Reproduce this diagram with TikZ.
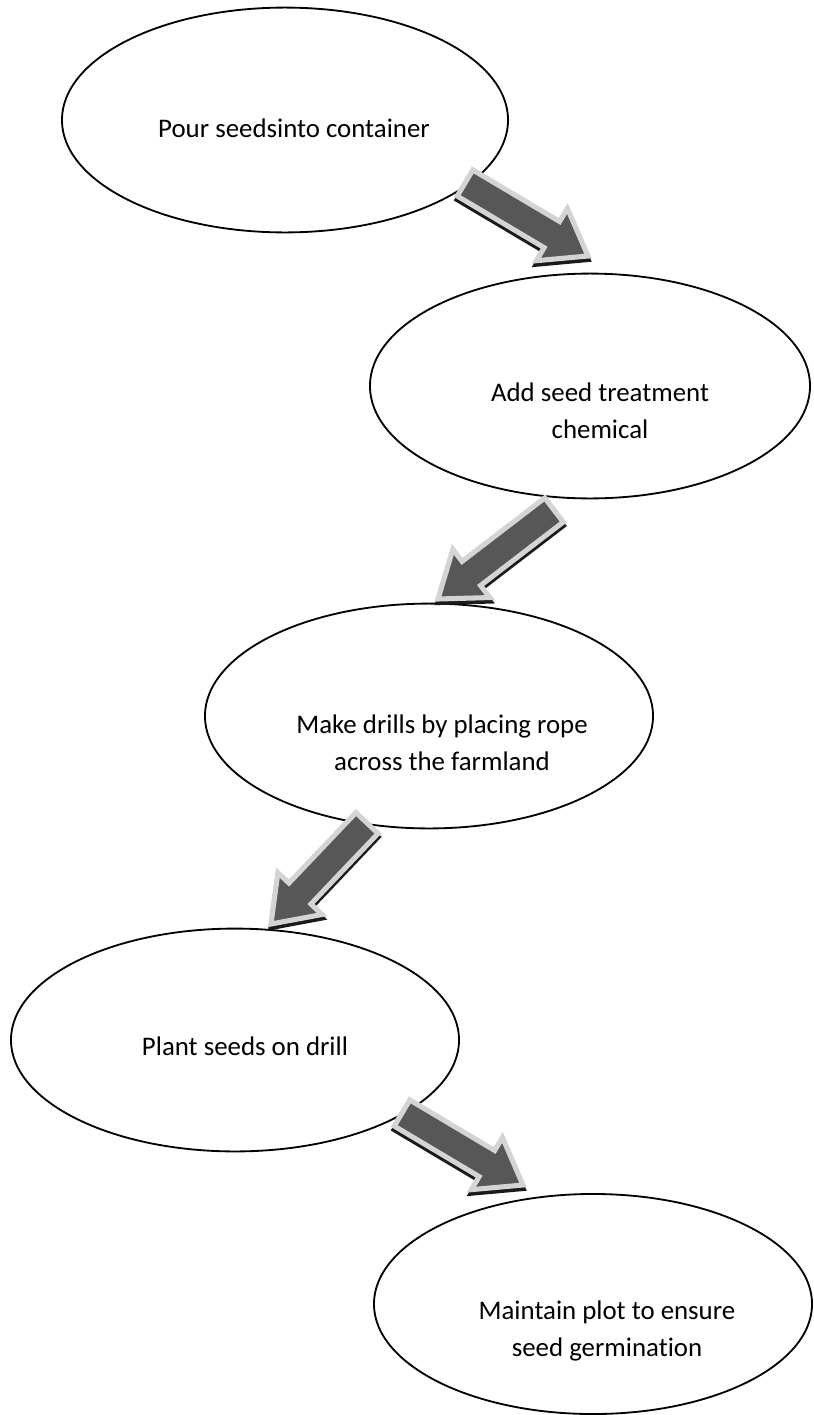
\documentclass[tikz,border=0pt]{standalone}
\usepackage{fontspec}
\setmainfont{Carlito}[Ligatures=CommonOff]
\usetikzlibrary{shapes.geometric,calc}

\definecolor{arrowfill}{HTML}{575757}
\definecolor{arrowrim}{HTML}{D4D4D4}
\definecolor{arrowshade}{HTML}{1A1A1A}

\tikzset{
  stage/.style={ellipse, draw=black, line width=1.3pt, inner sep=0pt},
  caption/.style={font=\fontsize{19.1}{26.3}\selectfont, align=center, inner sep=0pt},
  arrowbody/.style={draw=arrowrim, fill=arrowfill, line width=3.6pt, line join=miter},
  arrowshadow/.style={draw=arrowshade, fill=arrowshade, line width=3.6pt, line join=miter},
}

% outline of a block arrow running from coordinate #1 to its tip #2
\newcommand\arrowshape[2]{($(#1)!0.38cm!90:(#2)$) -- ($(#1-neck)!0.38cm!-90:(#1)$)
  -- ($(#1-neck)!0.76cm!-90:(#1)$) -- (#2) -- ($(#1-neck)!0.76cm!90:(#1)$)
  -- ($(#1-neck)!0.38cm!90:(#1)$) -- ($(#1)!0.38cm!-90:(#2)$) -- cycle}

\newcommand\flowarrow[2]{%
  \coordinate (#1-neck) at ($(#2)!1.05cm!(#1)$);
  \begin{scope}[transform canvas={yshift=-2.5pt}]
    \draw[arrowshadow] \arrowshape{#1}{#2};
  \end{scope}
  \draw[arrowbody] \arrowshape{#1}{#2};
}

\begin{document}
\begin{tikzpicture}[x=0.025cm, y=-0.025cm]
  \useasboundingbox (0,0) rectangle (814,1415);

  % process stages
  \node[stage, minimum width=11.15cm, minimum height=5.62cm] (s1) at (285,120) {};
  \node[stage, minimum width=11.0cm,  minimum height=5.62cm] (s2) at (590,386) {};
  \node[stage, minimum width=11.2cm,  minimum height=5.62cm] (s3) at (429,716) {};
  \node[stage, minimum width=11.2cm,  minimum height=5.57cm] (s4) at (235,1040) {};
  \node[stage, minimum width=10.95cm, minimum height=5.5cm]  (s5) at (593,1304) {};

  \node[caption] (t1) at (294,128)  {Pour seedsinto container};
  \node[caption] (t2) at (600,411)  {Add seed treatment\\chemical};
  \node[caption] (t3) at (442,743)  {Make drills by placing rope\\across the farmland};
  \node[caption] (t4) at (245,1046) {Plant seeds on drill};
  \node[caption] (t5) at (607,1331) {Maintain plot to ensure\\seed germination};

  % block arrows between the stages
  \coordinate (a1) at (465,183);  \coordinate (a1tip) at (588,256);
  \coordinate (a2) at (554,510);  \coordinate (a2tip) at (438,599);
  \coordinate (a3) at (367,823);  \coordinate (a3tip) at (271,924);
  \coordinate (a4) at (402,1113); \coordinate (a4tip) at (523,1185);

  \flowarrow{a1}{a1tip}
  \flowarrow{a2}{a2tip}
  \flowarrow{a3}{a3tip}
  \flowarrow{a4}{a4tip}
\end{tikzpicture}
\end{document}
